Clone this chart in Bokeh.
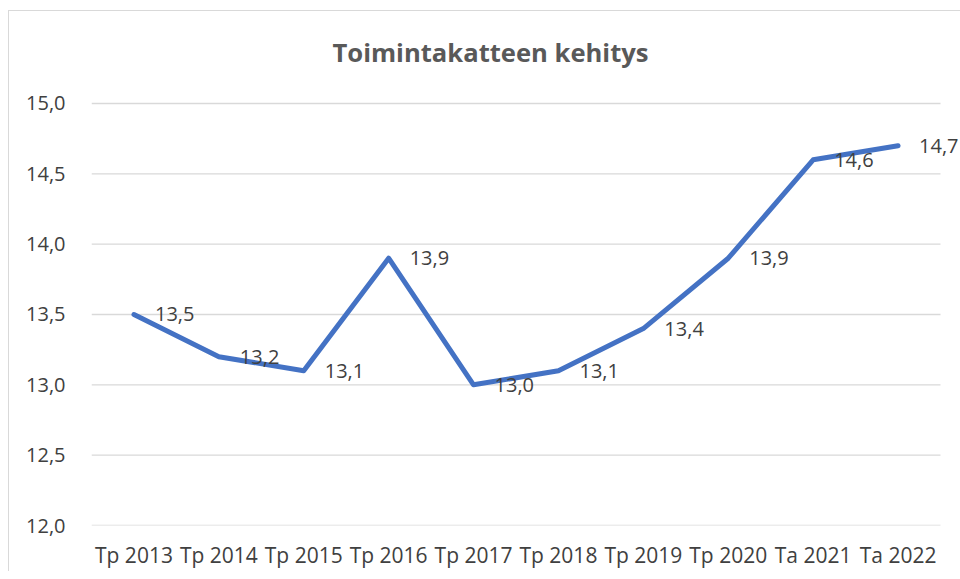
from bokeh.plotting import figure
from bokeh.models import ColumnDataSource, Label, FixedTicker, Range1d
from bokeh.embed import file_html
from bokeh.resources import INLINE

title_text = "Toimintakatteen kehitys"
categories = ["Tp 2013", "Tp 2014", "Tp 2015", "Tp 2016", "Tp 2017",
              "Tp 2018", "Tp 2019", "Tp 2020", "Ta 2021", "Ta 2022"]
values = [13.5, 13.2, 13.1, 13.9, 13.0, 13.1, 13.4, 13.9, 14.6, 14.7]
labels = [f"{v:.1f}".replace(".", ",") for v in values]
y_ticks = [12.0, 12.5, 13.0, 13.5, 14.0, 14.5, 15.0]

pos = list(range(len(categories)))
src = ColumnDataSource(dict(x=pos, y=values, lab=labels))

FONT = "Open Sans"
TXT = "#404040"

# category slots span -0.5 .. n-0.5; a little extra room on the right and top
# lets the last data label and the title be drawn inside the plot frame
x_lo, x_hi = -0.5, len(categories) - 0.5
p = figure(x_range=Range1d(x_lo, x_hi + 0.2356), y_range=Range1d(12.0, 15.654),
           width=951, height=556, frame_width=869, frame_height=514,
           min_border_left=82, min_border_right=0, min_border_top=0, min_border_bottom=42,
           output_backend="svg", toolbar_location=None,
           margin=(10, 0, 0, 8), border_fill_color="white")
p.styles = {"border-left": "1px solid #d9d9d9", "border-top": "1px solid #d9d9d9"}

p.outline_line_color = None
p.xgrid.grid_line_color = None
p.ygrid.grid_line_color = None

p.xaxis.ticker = FixedTicker(ticks=pos)
p.xaxis.major_label_overrides = {i: c for i, c in zip(pos, categories)}
p.yaxis.ticker = FixedTicker(ticks=y_ticks)
p.yaxis.major_label_overrides = {t: f"{t:.1f}".replace(".", ",") for t in y_ticks}

for ax in (p.xaxis, p.yaxis):
    ax.axis_line_color = None
    ax.major_tick_line_color = None
    ax.minor_tick_line_color = None
    ax.major_label_text_font = FONT
    ax.major_label_text_color = TXT
p.xaxis.major_label_text_font_size = "21px"
p.yaxis.major_label_text_font_size = "20px"
p.yaxis.major_label_standoff = 20
p.xaxis.major_label_standoff = 9

# horizontal gridlines across the category slots
p.segment(x0=[x_lo] * len(y_ticks), x1=[x_hi] * len(y_ticks), y0=y_ticks, y1=y_ticks,
          line_color="#d9d9d9", line_width=1.3)

p.line("x", "y", source=src, line_color="#4472C4", line_width=5, line_join="round", line_cap="round")

for xi, v, lab in zip(pos, values, labels):
    p.add_layout(Label(x=xi, y=v, text=lab, x_offset=21, y_offset=0,
                       text_baseline="middle", text_align="left",
                       text_font=FONT, text_font_size="20px", text_color=TXT))

# chart title above the gridded area
p.add_layout(Label(x=4.2, y=y_ticks[-1], y_offset=51, text=title_text,
                   text_align="center", text_baseline="middle",
                   text_font=FONT, text_font_size="25.6px", text_font_style="bold",
                   text_color="#595959"))

open("out.html", "w").write(file_html(p, INLINE))
